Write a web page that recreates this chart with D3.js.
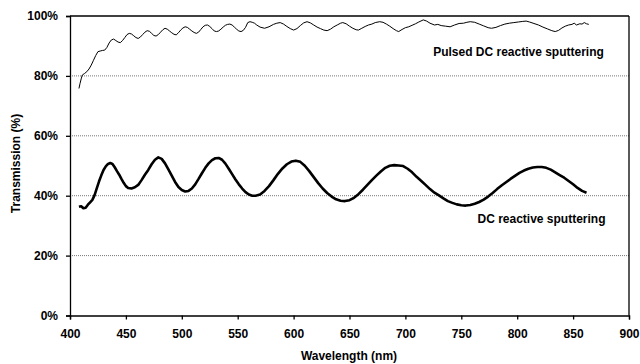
<!DOCTYPE html>
<html><head><meta charset="utf-8">
<script src="https://cdn.jsdelivr.net/npm/d3@7"></script>
<style>body{margin:0;background:#fff}svg{display:block}text{font-family:"Liberation Sans",Arial,sans-serif;font-weight:bold;fill:#000}</style>
</head><body>
<svg id="c" width="640" height="364"></svg>
<script>
const xTicks = [400,450,500,550,600,650,700,750,800,850,900];
const yTicks = [0,20,40,60,80,100];
const seriesNames = ["Pulsed DC reactive sputtering","DC reactive sputtering"];

const pulsedWl = [408,409,410,411,413,415,417,419,421,423,425,427,429,431,433,435,437,439,441,443,445,447,449,451,453,455,457,459,461,463,465,467,469,471,473,475,477,479,481,483,485,487,489,491,493,495,497,499,501,503,505,507,509,511,513,515,517,519,521,523,525,527,529,531,533,535,537,539,541,543,545,547,549,551,553,555,557,559,561,563,565,567,570,574,578,582,585,588,591,594,597,600,603,606,609,612,615,618,621,624,627,630,633,636,639,642,644,647,650,653,656,658,661,664,667,670,673,677,680,683,686,689,692,694,697,700,703,706,709,712,716,719,722,726,729,732,736,740,744,748,752,755,758,762,766,770,774,777,781,785,789,793,797,801,805,808,811,815,819,823,827,831,834,837,840,843,846,849,851,853,856,858,860,862,864];
const pulsedT = [75.8,77.5,79.0,80.3,80.8,81.4,82.3,83.6,85.2,86.8,88.1,88.3,88.5,88.6,89.5,91.0,92.0,92.3,91.8,91.3,91.1,91.8,92.8,93.8,94.2,94.0,93.4,92.8,92.5,93.0,93.8,94.6,95.1,94.9,94.2,93.5,93.3,93.8,94.6,95.4,95.9,95.6,95.0,94.4,93.9,93.7,94.4,95.3,96.0,96.4,96.2,95.6,95.0,94.5,94.2,94.6,95.5,96.4,96.9,97.0,96.5,95.8,95.0,94.8,95.0,95.6,96.3,96.9,97.2,97.3,97.0,96.3,95.6,95.0,94.8,95.2,96.2,97.8,98.1,97.9,97.6,97.0,96.3,95.9,96.4,97.2,97.6,97.8,97.3,96.5,95.8,95.3,95.8,96.8,97.7,98.1,97.7,97.0,96.3,95.8,95.3,95.1,95.6,96.4,97.0,97.6,97.8,97.4,96.6,95.9,95.4,95.3,95.9,96.5,97.0,97.3,97.8,98.1,97.9,97.3,96.6,95.8,95.1,94.8,95.5,96.1,96.4,96.9,97.4,98.0,98.7,98.3,97.6,97.0,97.2,96.8,96.6,96.4,97.0,97.5,97.6,97.9,98.1,97.9,97.3,96.7,96.1,95.9,96.2,96.8,97.3,97.6,97.8,98.0,98.2,98.3,98.0,97.5,97.0,96.3,95.7,95.1,94.8,95.2,96.0,96.6,97.0,97.2,97.6,97.0,97.4,97.3,97.8,97.4,97.2];

const dcWl = [408,410,412,414,416,418,420,422,424,426,428,430,432,434,436,438,440,442,444,446,448,450,452,455,458,461,464,467,470,473,476,479,482,485,488,491,494,497,500,503,506,509,512,515,518,521,524,527,530,533,536,539,542,545,548,551,554,557,560,563,566,570,574,578,582,586,590,594,598,602,606,610,614,618,622,626,630,634,638,642,646,650,654,658,662,666,670,674,678,682,686,690,694,698,702,706,710,714,718,722,726,730,734,738,742,746,750,754,758,762,766,770,774,778,782,786,790,794,798,802,806,810,814,818,822,826,830,834,838,842,846,850,854,858,862];
const dcT = [36.3,36.5,35.8,36.0,37.0,37.8,38.6,40.2,42.5,44.8,46.8,48.6,49.8,50.6,50.9,50.6,49.5,48.2,47.0,45.6,44.3,43.2,42.6,42.4,42.8,43.6,45.2,47.0,48.6,50.5,52.0,52.8,52.3,50.8,48.8,46.7,44.6,42.9,41.9,41.4,41.6,42.4,43.8,45.6,47.5,49.3,50.8,51.9,52.5,52.6,52.0,50.7,49.0,47.2,45.4,43.8,42.4,41.2,40.4,40.0,40.0,40.4,41.6,43.2,45.2,47.3,49.1,50.5,51.4,51.7,51.3,50.0,48.2,46.2,44.2,42.4,40.9,39.7,38.8,38.3,38.2,38.5,39.3,40.5,42.0,43.6,45.2,46.7,48.1,49.3,50.0,50.2,50.1,49.9,49.0,47.8,46.3,45.0,43.6,42.2,41.0,40.1,39.1,38.2,37.6,37.1,36.8,36.7,36.9,37.3,37.9,38.7,39.7,40.9,42.2,43.4,44.5,45.6,46.6,47.6,48.4,49.0,49.4,49.6,49.6,49.3,48.7,47.8,46.9,46.0,44.9,43.8,42.6,41.6,41.0];

const svg = d3.select("#c");
const L = 70, R = 629, T = 16, B = 315.5;
const x = d3.scaleLinear().domain([400,900]).range([L,R]);
const y = d3.scaleLinear().domain([0,100]).range([B,T]);

// gridlines
svg.append("g").selectAll("line").data(yTicks.filter(d=>d>0&&d<100)).join("line")
  .attr("x1",L).attr("x2",R).attr("y1",d=>y(d)).attr("y2",d=>y(d))
  .attr("stroke","#777").attr("stroke-width",1).attr("stroke-dasharray","1,1");

// frame top/right
svg.append("line").attr("x1",L).attr("x2",R).attr("y1",T).attr("y2",T).attr("stroke","#000").attr("stroke-width",1.3);
svg.append("line").attr("x1",R).attr("x2",R).attr("y1",T).attr("y2",B).attr("stroke","#000").attr("stroke-width",1.3);

const xa = svg.append("g").attr("transform",`translate(0,${B})`)
  .call(d3.axisBottom(x).tickValues(xTicks).tickSize(4).tickPadding(10).tickFormat(d3.format("d")));
const ya = svg.append("g").attr("transform",`translate(${L},0)`)
  .call(d3.axisLeft(y).tickValues(yTicks).tickSize(4).tickPadding(8).tickFormat(d=>d+"%"));
[xa,ya].forEach(a=>{
  a.selectAll("path,line").attr("stroke","#000").attr("stroke-width",1.3);
  a.selectAll("text").style("font-size","12px").style("font-weight","bold").attr("fill","#000");
});

const line = d3.line().x(d=>x(d[0])).y(d=>y(d[1]));
const pulsed = d3.zip(pulsedWl,pulsedT);
const dc = d3.zip(dcWl,dcT);
svg.append("path").datum(pulsed).attr("d",line).attr("fill","none").attr("stroke","#000").attr("stroke-width",1).attr("stroke-linejoin","round");
svg.append("path").datum(dc).attr("d",line).attr("fill","none").attr("stroke","#000").attr("stroke-width",2.6).attr("stroke-linejoin","round");

svg.append("text").attr("x",518.5).attr("y",55.5).attr("text-anchor","middle").style("font-size","12px").text(seriesNames[0]);
svg.append("text").attr("x",541.5).attr("y",222.5).attr("text-anchor","middle").style("font-size","12px").text(seriesNames[1]);

svg.append("text").attr("x",349).attr("y",360).attr("text-anchor","middle").style("font-size","12px").text("Wavelength (nm)");
svg.append("text").attr("transform","translate(20,163.5) rotate(-90)").attr("text-anchor","middle").style("font-size","12px").text("Transmission (%)");
</script>
</body></html>
